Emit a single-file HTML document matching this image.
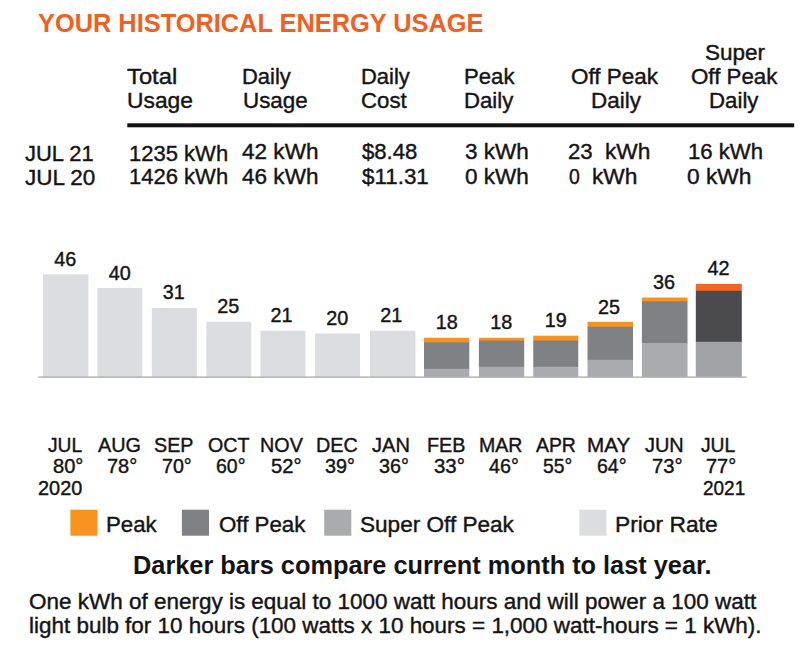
<!DOCTYPE html>
<html><head><meta charset="utf-8"><title>Your Historical Energy Usage</title>
<style>
html,body{margin:0;padding:0;background:#fff;}
body{width:800px;height:656px;position:relative;overflow:hidden;font-family:"Liberation Sans",sans-serif;}
.t{position:absolute;white-space:pre;transform-origin:0 0;-webkit-text-stroke:0.4px currentColor;}
.b{position:absolute;}
</style></head><body>
<svg class="b" style="left:0;top:0" width="800" height="656" viewBox="0 0 800 656">
<rect x="42.9" y="274.4" width="45.5" height="102.30" fill="#dcdde0"/>
<rect x="97.3" y="288" width="45" height="88.70" fill="#dcdde0"/>
<rect x="151.8" y="308" width="45" height="68.70" fill="#dcdde0"/>
<rect x="206.3" y="321.7" width="45" height="55.00" fill="#dcdde0"/>
<rect x="260.5" y="330.7" width="45" height="46.00" fill="#dcdde0"/>
<rect x="315" y="333.5" width="45" height="43.20" fill="#dcdde0"/>
<rect x="370" y="330.7" width="45.5" height="46.00" fill="#dcdde0"/>
<rect x="424" y="337.75" width="45.3" height="5.15" fill="#f7931e"/>
<rect x="424" y="342.3" width="45.3" height="27.10" fill="#808184"/>
<rect x="424" y="368.8" width="45.3" height="7.90" fill="#a9abae"/>
<rect x="478.9" y="337.75" width="45.3" height="3.45" fill="#f7931e"/>
<rect x="478.9" y="340.6" width="45.3" height="26.70" fill="#808184"/>
<rect x="478.9" y="366.7" width="45.3" height="10.00" fill="#a9abae"/>
<rect x="533.25" y="335.7" width="45" height="5.40" fill="#f7931e"/>
<rect x="533.25" y="340.5" width="45" height="26.85" fill="#808184"/>
<rect x="533.25" y="366.75" width="45" height="9.95" fill="#a9abae"/>
<rect x="587.5" y="321.8" width="45.5" height="5.50" fill="#f7931e"/>
<rect x="587.5" y="326.7" width="45.5" height="33.70" fill="#808184"/>
<rect x="587.5" y="359.8" width="45.5" height="16.90" fill="#a9abae"/>
<rect x="641.9" y="297.5" width="45.6" height="4.40" fill="#f7931e"/>
<rect x="641.9" y="301.3" width="45.6" height="42.40" fill="#808184"/>
<rect x="641.9" y="343.1" width="45.6" height="33.60" fill="#a9abae"/>
<rect x="695.8" y="283.9" width="46" height="7.50" fill="#f26522"/>
<rect x="695.8" y="290.8" width="46" height="51.60" fill="#4b4b4d"/>
<rect x="695.8" y="341.8" width="46" height="34.90" fill="#a2a3a6"/>
<rect x="38.2" y="376.6" width="708.4" height="1" fill="#8e8f92"/>
<rect x="127.3" y="123.3" width="666.9" height="4" fill="#141414"/>
<rect x="70.4" y="509.7" width="27.1" height="26" fill="#f7931e"/>
<rect x="181.9" y="509.7" width="27.1" height="26" fill="#808184"/>
<rect x="324.2" y="509.7" width="27.1" height="26" fill="#a9abae"/>
<rect x="579.4" y="509.7" width="27.1" height="26" fill="#dcdde0"/>
</svg>
<div class="t" style="left:37.99px;top:9px;font-size:25.6px;line-height:28px;font-weight:bold;-webkit-text-stroke:0;color:#f15f22;transform:scaleX(0.9913)">YOUR HISTORICAL ENERGY USAGE</div>
<div class="t" style="left:127.42px;top:64px;font-size:22.5px;line-height:25px;color:#141414;transform:scaleX(1.0557)">Total</div>
<div class="t" style="left:126.59px;top:88px;font-size:22.5px;line-height:25px;color:#141414;transform:scaleX(1.0140)">Usage</div>
<div class="t" style="left:242.49px;top:64px;font-size:22.5px;line-height:25px;color:#141414;transform:scaleX(0.9761)">Daily</div>
<div class="t" style="left:243.32px;top:88px;font-size:22.5px;line-height:25px;color:#141414;transform:scaleX(0.9948)">Usage</div>
<div class="t" style="left:361.24px;top:64px;font-size:22.5px;line-height:25px;color:#141414;transform:scaleX(0.9761)">Daily</div>
<div class="t" style="left:361.39px;top:88px;font-size:22.5px;line-height:25px;color:#141414;transform:scaleX(0.9889)">Cost</div>
<div class="t" style="left:464.48px;top:64px;font-size:22.5px;line-height:25px;color:#141414;transform:scaleX(0.9848)">Peak</div>
<div class="t" style="left:464.47px;top:88px;font-size:22.5px;line-height:25px;color:#141414;transform:scaleX(0.9865)">Daily</div>
<div class="t" style="left:570.99px;top:64px;font-size:22.5px;line-height:25px;color:#141414;transform:scaleX(0.9980)">Off Peak</div>
<div class="t" style="left:590.61px;top:88px;font-size:22.5px;line-height:25px;color:#141414;transform:scaleX(0.9969)">Daily</div>
<div class="t" style="left:704.99px;top:40px;font-size:22.5px;line-height:25px;color:#141414;transform:scaleX(0.9998)">Super</div>
<div class="t" style="left:691.00px;top:64px;font-size:22.5px;line-height:25px;color:#141414;transform:scaleX(0.9922)">Off Peak</div>
<div class="t" style="left:709.22px;top:88px;font-size:22.5px;line-height:25px;color:#141414;transform:scaleX(0.9886)">Daily</div>
<div class="t" style="left:24.57px;top:141px;font-size:22.5px;line-height:25px;color:#141414;transform:scaleX(0.9744)">JUL 21</div>
<div class="t" style="left:24.56px;top:165px;font-size:22.5px;line-height:25px;color:#141414;transform:scaleX(0.9987)">JUL 20</div>
<div class="t" style="left:128.85px;top:141px;font-size:22.5px;line-height:25px;color:#141414;transform:scaleX(0.9786)">1235 kWh</div>
<div class="t" style="left:128.85px;top:164px;font-size:22.5px;line-height:25px;color:#141414;transform:scaleX(0.9786)">1426 kWh</div>
<div class="t" style="left:241.94px;top:139px;font-size:22.2px;line-height:25px;color:#141414;transform:scaleX(1.0169)">42 kWh</div>
<div class="t" style="left:241.94px;top:164px;font-size:22.2px;line-height:25px;color:#141414;transform:scaleX(1.0169)">46 kWh</div>
<div class="t" style="left:361.78px;top:139px;font-size:22.2px;line-height:25px;color:#141414;transform:scaleX(0.9974)">$8.48</div>
<div class="t" style="left:361.78px;top:164px;font-size:22.2px;line-height:25px;color:#141414;transform:scaleX(1.0087)">$11.31</div>
<div class="t" style="left:464.60px;top:139px;font-size:22.2px;line-height:25px;color:#141414;transform:scaleX(1.0148)">3 kWh</div>
<div class="t" style="left:464.60px;top:164px;font-size:22.2px;line-height:25px;color:#141414;transform:scaleX(1.0148)">0 kWh</div>
<div class="t" style="left:567.64px;top:139px;font-size:22.2px;line-height:25px;color:#141414;transform:scaleX(0.9985)">23</div>
<div class="t" style="left:604.77px;top:139px;font-size:22.2px;line-height:25px;color:#141414;transform:scaleX(1.0238)">kWh</div>
<div class="t" style="left:568.72px;top:164px;font-size:22.2px;line-height:25px;color:#141414;transform:scaleX(0.8772)">0</div>
<div class="t" style="left:592.27px;top:164px;font-size:22.2px;line-height:25px;color:#141414;transform:scaleX(1.0238)">kWh</div>
<div class="t" style="left:688.34px;top:139px;font-size:22.2px;line-height:25px;color:#141414;transform:scaleX(0.9979)">16 kWh</div>
<div class="t" style="left:686.59px;top:164px;font-size:22.2px;line-height:25px;color:#141414;transform:scaleX(1.0230)">0 kWh</div>
<div class="t" style="left:54.21px;top:248px;font-size:19.8px;line-height:22px;color:#141414;transform:scaleX(1.0000)">46</div>
<div class="t" style="left:108.78px;top:262px;font-size:19.8px;line-height:22px;color:#141414;transform:scaleX(1.0000)">40</div>
<div class="t" style="left:162.74px;top:281px;font-size:19.8px;line-height:22px;color:#141414;transform:scaleX(1.0000)">31</div>
<div class="t" style="left:217.16px;top:295px;font-size:19.8px;line-height:22px;color:#141414;transform:scaleX(1.0000)">25</div>
<div class="t" style="left:270.41px;top:304px;font-size:19.8px;line-height:22px;color:#141414;transform:scaleX(1.0000)">21</div>
<div class="t" style="left:326.16px;top:307px;font-size:19.8px;line-height:22px;color:#141414;transform:scaleX(1.0000)">20</div>
<div class="t" style="left:380.16px;top:304px;font-size:19.8px;line-height:22px;color:#141414;transform:scaleX(1.0000)">21</div>
<div class="t" style="left:435.76px;top:311px;font-size:19.8px;line-height:22px;color:#141414;transform:scaleX(1.0000)">18</div>
<div class="t" style="left:490.21px;top:311px;font-size:19.8px;line-height:22px;color:#141414;transform:scaleX(1.0000)">18</div>
<div class="t" style="left:544.81px;top:309px;font-size:19.8px;line-height:22px;color:#141414;transform:scaleX(1.0000)">19</div>
<div class="t" style="left:598.01px;top:296px;font-size:19.8px;line-height:22px;color:#141414;transform:scaleX(1.0000)">25</div>
<div class="t" style="left:653.06px;top:271px;font-size:19.8px;line-height:22px;color:#141414;transform:scaleX(1.0000)">36</div>
<div class="t" style="left:707.46px;top:257px;font-size:19.8px;line-height:22px;color:#141414;transform:scaleX(1.0000)">42</div>
<div class="t" style="left:47.71px;top:434px;font-size:19.6px;line-height:22px;color:#141414;transform:scaleX(0.9806)">JUL</div>
<div class="t" style="left:97.90px;top:434px;font-size:19.6px;line-height:22px;color:#141414;transform:scaleX(1.0131)">AUG</div>
<div class="t" style="left:154.11px;top:434px;font-size:19.6px;line-height:22px;color:#141414;transform:scaleX(1.0043)">SEP</div>
<div class="t" style="left:207.82px;top:434px;font-size:19.6px;line-height:22px;color:#141414;transform:scaleX(1.0029)">OCT</div>
<div class="t" style="left:260.32px;top:434px;font-size:19.6px;line-height:22px;color:#141414;transform:scaleX(1.0081)">NOV</div>
<div class="t" style="left:315.82px;top:434px;font-size:19.6px;line-height:22px;color:#141414;transform:scaleX(1.0102)">DEC</div>
<div class="t" style="left:372.30px;top:434px;font-size:19.6px;line-height:22px;color:#141414;transform:scaleX(1.0233)">JAN</div>
<div class="t" style="left:427.12px;top:434px;font-size:19.6px;line-height:22px;color:#141414;transform:scaleX(1.0092)">FEB</div>
<div class="t" style="left:478.84px;top:434px;font-size:19.6px;line-height:22px;color:#141414;transform:scaleX(0.9961)">MAR</div>
<div class="t" style="left:535.50px;top:434px;font-size:19.6px;line-height:22px;color:#141414;transform:scaleX(0.9899)">APR</div>
<div class="t" style="left:586.65px;top:434px;font-size:19.6px;line-height:22px;color:#141414;transform:scaleX(1.0537)">MAY</div>
<div class="t" style="left:645.00px;top:434px;font-size:19.6px;line-height:22px;color:#141414;transform:scaleX(1.0176)">JUN</div>
<div class="t" style="left:700.91px;top:434px;font-size:19.6px;line-height:22px;color:#141414;transform:scaleX(0.9821)">JUL</div>
<div class="t" style="left:52.85px;top:455px;font-size:19.6px;line-height:22px;color:#141414;transform:scaleX(1.0259)">80°</div>
<div class="t" style="left:106.50px;top:455px;font-size:19.6px;line-height:22px;color:#141414;transform:scaleX(1.0204)">78°</div>
<div class="t" style="left:161.52px;top:455px;font-size:19.6px;line-height:22px;color:#141414;transform:scaleX(1.0022)">70°</div>
<div class="t" style="left:216.33px;top:455px;font-size:19.6px;line-height:22px;color:#141414;transform:scaleX(0.9949)">60°</div>
<div class="t" style="left:270.59px;top:455px;font-size:19.6px;line-height:22px;color:#141414;transform:scaleX(1.0276)">52°</div>
<div class="t" style="left:325.21px;top:455px;font-size:19.6px;line-height:22px;color:#141414;transform:scaleX(1.0096)">39°</div>
<div class="t" style="left:379.01px;top:455px;font-size:19.6px;line-height:22px;color:#141414;transform:scaleX(1.0096)">36°</div>
<div class="t" style="left:433.58px;top:455px;font-size:19.6px;line-height:22px;color:#141414;transform:scaleX(1.0421)">33°</div>
<div class="t" style="left:488.61px;top:455px;font-size:19.6px;line-height:22px;color:#141414;transform:scaleX(1.0061)">46°</div>
<div class="t" style="left:542.93px;top:455px;font-size:19.6px;line-height:22px;color:#141414;transform:scaleX(0.9878)">55°</div>
<div class="t" style="left:597.32px;top:455px;font-size:19.6px;line-height:22px;color:#141414;transform:scaleX(0.9949)">64°</div>
<div class="t" style="left:651.69px;top:455px;font-size:19.6px;line-height:22px;color:#141414;transform:scaleX(1.0313)">73°</div>
<div class="t" style="left:705.50px;top:455px;font-size:19.6px;line-height:22px;color:#141414;transform:scaleX(1.0204)">77°</div>
<div class="t" style="left:37.75px;top:477px;font-size:19.6px;line-height:22px;color:#141414;transform:scaleX(1.0156)">2020</div>
<div class="t" style="left:703.45px;top:477px;font-size:19.6px;line-height:22px;color:#141414;transform:scaleX(0.9676)">2021</div>
<div class="t" style="left:106.22px;top:511px;font-size:22.7px;line-height:26px;color:#141414;transform:scaleX(0.9812)">Peak</div>
<div class="t" style="left:219.00px;top:511px;font-size:22.7px;line-height:26px;color:#141414;transform:scaleX(0.9834)">Off Peak</div>
<div class="t" style="left:360.23px;top:511px;font-size:22.7px;line-height:26px;color:#141414;transform:scaleX(0.9948)">Super Off Peak</div>
<div class="t" style="left:615.18px;top:511px;font-size:22.7px;line-height:26px;color:#141414;transform:scaleX(1.0044)">Prior Rate</div>
<div class="t" style="left:132.60px;top:551px;font-size:25.3px;line-height:28px;font-weight:bold;-webkit-text-stroke:0;color:#141414;transform:scaleX(1.0012)">Darker bars compare current month to last year.</div>
<div class="t" style="left:28.89px;top:589px;font-size:22.0px;line-height:25px;color:#141414;transform:scaleX(1.0217)">One kWh of energy is equal to 1000 watt hours and will power a 100 watt</div>
<div class="t" style="left:29.04px;top:613px;font-size:22.0px;line-height:25px;color:#141414;transform:scaleX(1.0205)">light bulb for 10 hours (100 watts x 10 hours = 1,000 watt-hours = 1 kWh).</div>
</body></html>
